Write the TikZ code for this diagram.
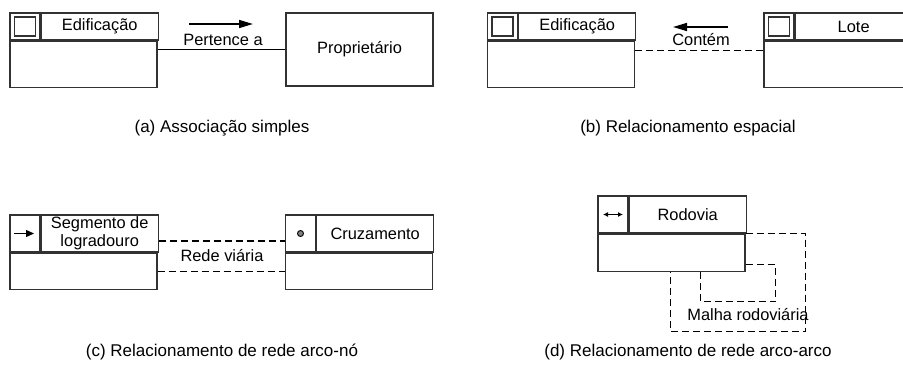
\documentclass[tikz,border=0pt]{standalone}
\usepackage{fontspec}
\setmainfont{Liberation Sans}
\usetikzlibrary{positioning,arrows.meta,calc}
\definecolor{bLine}{RGB}{50,50,50}
\definecolor{bDot}{RGB}{130,130,130}
\tikzset{
  icon/.style={rectangle, draw=bLine, line width=1.2pt, minimum width=30pt,
               minimum height=27pt, inner sep=0pt},
  title/.style={rectangle, draw=bLine, line width=1.2pt, minimum width=117pt,
                minimum height=27pt, inner sep=0pt, align=center,
                font=\fontsize{16.4}{17.5}\selectfont},
  body/.style={rectangle, draw=bLine, line width=1.2pt, minimum width=147pt,
               minimum height=46pt, inner sep=0pt},
  plain/.style={body, minimum height=73pt, font=\fontsize{16.4}{17.5}\selectfont},
  sq/.style={rectangle, draw=bLine, line width=1.4pt, minimum width=21pt,
             minimum height=19pt, inner sep=0pt},
  dotnode/.style={circle, draw=black, fill=bDot, line width=0.9pt,
                  minimum size=6pt, inner sep=0pt},
  assoc/.style={draw=black, line width=1.2pt},
  spat/.style={draw=black, line width=1.2pt, dash pattern=on 7pt off 4pt},
  dir/.style={-{Triangle[length=14pt,width=8pt]}, draw=black, line width=1.6pt},
  lbl/.style={font=\fontsize{16.4}{17.5}\selectfont, inner sep=1pt},
  legend/.style={font=\fontsize{17}{19}\selectfont, inner sep=0pt},
}

\begin{document}
\begin{tikzpicture}[x=1pt,y=-1pt]
  \useasboundingbox (0,0) rectangle (903,370);
  % (a) association
  \node[icon] (edifi) at (25,26.5) {};
  \node[sq] (edifs) at (edifi) {};
  \node[title, right=0pt of edifi] (edift) {Edificação};
  \node[body, anchor=north west] (edifb) at (edifi.south west) {};
  \node[plain] (prop) at (359.5,49.5) {Proprietário};
  \draw[assoc] (edifb.east |- prop.west) -- (prop.west);
  \node[lbl] (pert) at (223,40) {Pertence a};
  \coordinate (pA) at (189,24);
  \coordinate (pB) at (253,24);
  \draw[dir] (pA) -- (pB);
  \node[legend] (capa) at (222,128) {(a) Associação simples};

  % (b) spatial
  \node[icon] (edif2i) at (502.5,26.5) {};
  \node[sq] (edif2s) at (edif2i) {};
  \node[title, right=0pt of edif2i] (edif2t) {Edificação};
  \node[body, anchor=north west] (edif2b) at (edif2i.south west) {};
  \node[icon] (lotei) at (779,26.5) {};
  \node[sq] (lotes) at (lotei) {};
  \node[title, right=0pt of lotei] (lotet) {Lote};
  \node[body, anchor=north west] (loteb) at (lotei.south west) {};
  \draw[spat] ($(edif2b.north east)+(0,10)$) -- ($(loteb.north west)+(0,10)$);
  \node[lbl] (cont) at (701,40) {Contém};
  \coordinate (cA) at (728,27);
  \coordinate (cB) at (673,27);
  \draw[dir] (cA) -- (cB);
  \node[legend] (capb) at (688,128) {(b) Relacionamento espacial};

  % (c) arc-node network
  \node[icon, minimum height=37pt] (segi) at (25,233.5) {};
  \draw[-{Triangle[length=8pt,width=7pt]}, line width=1.3pt]
    ($(segi.center)+(-11,0)$) -- ($(segi.center)+(9,0)$);
  \node[title, minimum height=37pt, right=0pt of segi] (segt) {Segmento de\\logradouro};
  \node[body, minimum height=36pt, anchor=north west] (segb) at (segi.south west) {};
  \node[icon, minimum height=37pt] (cruzi) at (300.5,233.5) {};
  \node[dotnode] (cruzp) at (cruzi) {};
  \node[title, minimum height=37pt, right=0pt of cruzi] (cruzt) {Cruzamento};
  \node[body, minimum height=36pt, anchor=north west] (cruzb) at (cruzi.south west) {};
  \draw[spat] ($(segt.east)+(0,7.5)$) -- ($(cruzi.west)+(0,7.5)$);
  \draw[spat] (segb.east) -- (cruzb.west);
  \node[lbl] (rede) at (222,256) {Rede viária};
  \node[legend] (capc) at (222,352) {(c) Relacionamento de rede arco-nó};

  % (d) arc-arc network
  \node[icon, minimum height=37pt] (rodi) at (613,214.5) {};
  \draw[{Latex[length=5pt,width=5pt]}-{Latex[length=5pt,width=5pt]}, line width=1.1pt]
    ($(rodi.center)+(-10,0)$) -- ($(rodi.center)+(10,0)$);
  \node[title, minimum height=37pt, right=0pt of rodi] (rodt) {Rodovia};
  \node[body, minimum height=37pt, anchor=north west] (rodb) at (rodi.south west) {};
  \draw[spat] (rodb.north east) -- ++(60,0) |- ($(rodb.south west)+(73,60)$)
    -- ($(rodb.south west)+(73,0)$);
  \draw[spat] ($(rodb.south east)+(0,-7)$) -- ++(30,0) |- ($(rodb.south west)+(103,30)$)
    -- ($(rodb.south west)+(103,0)$);
  \node[lbl] (malha) at (748,315) {Malha rodoviária};
  \node[legend] (capd) at (688,352) {(d) Relacionamento de rede arco-arco};
\end{tikzpicture}
\end{document}
